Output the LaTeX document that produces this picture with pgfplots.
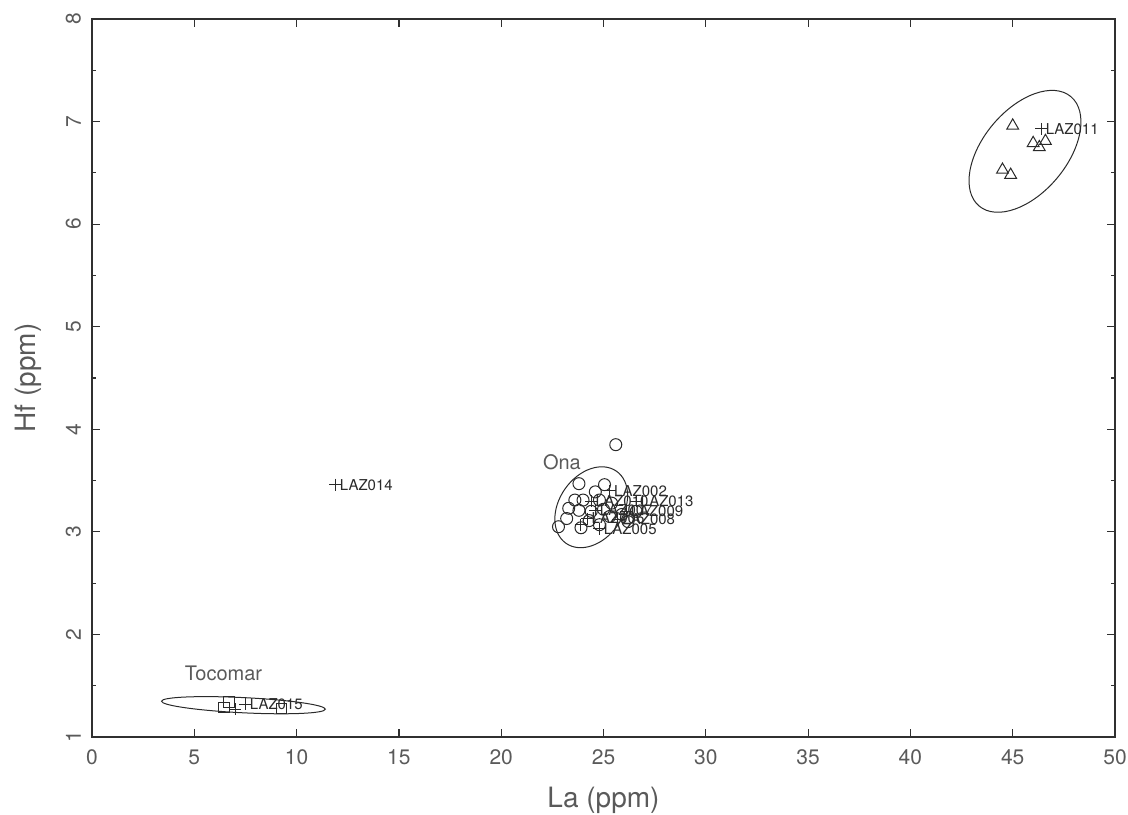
\documentclass[border=0pt]{standalone}
\usepackage{pgfplots}
\pgfplotsset{compat=1.18}
\usepackage{fontspec}
\setmainfont{TeX Gyre Heros}
\definecolor{txt}{HTML}{5A5A5A}
\definecolor{ax}{HTML}{303030}
\definecolor{mk}{HTML}{2A2A2A}
\begin{document}
\begin{tikzpicture}
\path[use as bounding box] (-46pt,-38.5pt) rectangle (518pt,368.5pt);
\begin{axis}[
  scale only axis, width=511.5pt, height=359pt,
  xmin=0, xmax=50, ymin=1, ymax=8,
  xtick={0,5,...,50}, ytick={1,2,...,8},
  minor y tick num=1,
  major tick length=4pt, minor tick length=2pt,
  axis line style={ax, line width=0.8pt},
  every tick/.style={ax, line width=0.6pt},
  tick label style={font=\fontsize{10.5}{12}\selectfont, text=txt},
  /pgf/number format/assume math mode=true,
  yticklabel style={rotate=90, anchor=south, yshift=2pt},
  xticklabel style={yshift=-3pt},
  xlabel={La (ppm)}, ylabel={Hf (ppm)},
  label style={font=\fontsize{14}{16}\selectfont, text=txt},
  xlabel style={at={(axis description cs:0.5,0)}, anchor=center, yshift=-31.5pt},
  ylabel style={at={(axis description cs:0,0.5)}, anchor=center, yshift=32pt},
  clip=false,
]
% Ona group: circles
\addplot[only marks, mark=o, mark size=3pt, mk, mark options={line width=0.5pt}] coordinates {
 (25.6,3.85) (23.8,3.47) (25.05,3.46) (24.6,3.39) (23.6,3.31) (24.0,3.31) (24.8,3.31)
 (25.4,3.28) (23.3,3.23) (23.8,3.21) (24.4,3.20) (25.0,3.22) (23.2,3.13) (24.3,3.11)
 (25.3,3.15) (25.9,3.17) (22.8,3.05) (23.9,3.04) (24.8,3.07) (26.2,3.10) (26.6,3.20)
};
% Top-right group: triangles
\addplot[only marks, mark=triangle, mark size=3.4pt, mk, mark options={line width=0.5pt}] coordinates {
 (45.0,6.96) (46.0,6.79) (46.3,6.75) (46.6,6.81) (44.5,6.53) (44.9,6.48)
};
% Tocomar group: squares
\addplot[only marks, mark=square, mark size=2.6pt, mk, mark options={line width=0.5pt}] coordinates {
 (6.45,1.29) (6.7,1.34) (9.25,1.28)
};
% Unlabelled crosses
\addplot[only marks, mark=+, mark size=3pt, mk, mark options={line width=0.5pt}] coordinates {
 (7.0,1.27) (23.9,3.07)
};
% Labelled samples: crosses
\addplot[only marks, mark=+, mark size=3pt, mk, mark options={line width=0.5pt},
  nodes near coords, point meta=explicit symbolic,
  every node near coord/.style={anchor=west, xshift=1pt, inner sep=1pt, text=mk, font=\fontsize{7.5}{8}\selectfont}]
 table[meta=label] {
x y label
46.4 6.93 LAZ011
11.9 3.46 LAZ014
7.5 1.32 LAZ015
25.3 3.40 LAZ002
24.4 3.30 LAZ010
26.6 3.30 LAZ013
24.6 3.21 LAZ007
26.1 3.20 LAZ009
24.2 3.13 LAZ006
25.7 3.12 LAZ008
24.8 3.03 LAZ005
};
% group ellipses
\draw[mk, line width=0.5pt, rotate around={55:(axis cs:24.4,3.24)}] (axis cs:24.4,3.24) ellipse [x radius=22pt, y radius=16pt];
\draw[mk, line width=0.5pt, rotate around={50:(axis cs:45.6,6.71)}] (axis cs:45.6,6.71) ellipse [x radius=35.7pt, y radius=20.9pt];
\draw[mk, line width=0.5pt, rotate around={-2.8:(axis cs:7.4,1.31)}] (axis cs:7.4,1.31) ellipse [x radius=41pt, y radius=3.8pt];
% group names
\node[anchor=west, text=txt, font=\fontsize{10}{12}\selectfont] at (axis cs:4.2,1.62) {Tocomar};
\node[anchor=west, text=txt, font=\fontsize{10}{12}\selectfont] at (axis cs:21.7,3.68) {Ona};
\end{axis}
\end{tikzpicture}
\end{document}
